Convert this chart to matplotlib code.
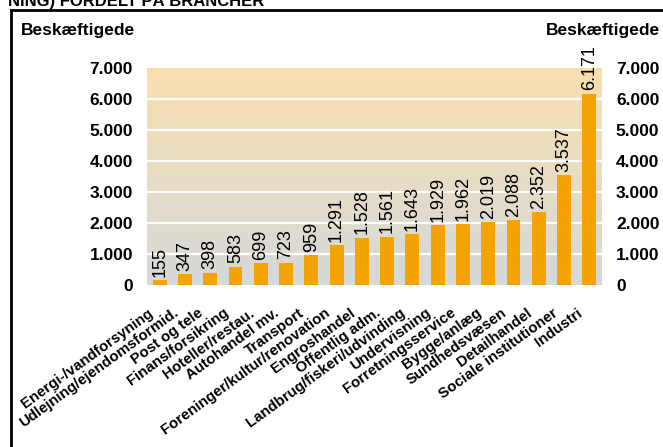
import matplotlib
matplotlib.use("Agg")
import matplotlib.pyplot as plt
import numpy as np
from matplotlib.lines import Line2D
from matplotlib.colors import LinearSegmentedColormap

plt.rcParams['font.family'] = ['Liberation Sans', 'DejaVu Sans']

categories = ["Energi-/vandforsyning", "Udlejning/ejendomsformid.", "Post og tele",
              "Finans/forsikring", "Hoteller/restau.", "Autohandel mv.", "Transport",
              "Foreninger/kultur/renovation", "Engroshandel", "Offentlig adm.",
              "Landbrug/fiskeri/udvinding", "Undervisning", "Forretningsservice",
              "Bygge/anlæg", "Sundhedsvæsen", "Detailhandel", "Sociale institutioner", "Industri"]
values = [155, 347, 398, 583, 699, 723, 959, 1291, 1528, 1561, 1643, 1929, 1962,
          2019, 2088, 2352, 3537, 6171]
yticks = [0, 1000, 2000, 3000, 4000, 5000, 6000, 7000]
ytick_labels = ["0", "1.000", "2.000", "3.000", "4.000", "5.000", "6.000", "7.000"]
value_labels = ["155", "347", "398", "583", "699", "723", "959", "1.291", "1.528", "1.561",
                "1.643", "1.929", "1.962", "2.019", "2.088", "2.352", "3.537", "6.171"]

W, H = 663, 447
fig = plt.figure(figsize=(W / 100, H / 100), dpi=100)
ax = fig.add_axes([147 / W, 1 - 285 / H, (602 - 147) / W, (285 - 68) / H])

n = len(categories)
x = np.arange(n)
ax.set_xlim(-0.5, n - 0.5)
ax.set_ylim(0, 7000)

# gradient background
cmap = LinearSegmentedColormap.from_list("bg", ["#d5d9d9", "#fadfb0"])
grad = np.linspace(0, 1, 256).reshape(-1, 1)
ax.imshow(grad, extent=[-0.5, n - 0.5, 0, 7000], origin="lower", aspect="auto",
          cmap=cmap, zorder=0)

for t in yticks[1:-1]:
    ax.axhline(t, color="white", lw=1.6, zorder=1)

ax.bar(x, values, width=0.55, color="#f5a300", zorder=2)

for xi, v, lab in zip(x, values, value_labels):
    ax.annotate(lab, (xi, v), xytext=(0, 2.5), textcoords="offset points",
                rotation=90, ha="center", va="bottom", fontsize=13, zorder=3)

for s in ax.spines.values():
    s.set_visible(False)

ax.set_yticks(yticks)
ax.set_yticklabels(ytick_labels, fontsize=12.5, fontweight="bold")
ax.tick_params(axis="y", length=0, pad=10, labelleft=True, labelright=True)

ax.set_xticks(x)
ax.set_xticklabels([])
ax.tick_params(axis="x", length=0)
for xi, cat in zip(x, categories):
    ax.annotate(cat, (xi, 0), xytext=(-6, -19), textcoords="offset points",
                rotation=36, ha="right", va="center", rotation_mode="anchor",
                fontsize=10.8, fontweight="bold", annotation_clip=False)

# side labels
fig.text(21 / W, 1 - 30 / H, "Beskæftigede", fontsize=12.5, fontweight="bold",
         ha="left", va="center")
fig.text(660 / W, 1 - 30 / H, "Beskæftigede", fontsize=12.5, fontweight="bold",
         ha="right", va="center")

# title of the page, cut off at the top edge as in the reference
fig.text(8 / W, 1 - 6 / H, "NING) FORDELT PÅ BRANCHER", fontsize=12,
         fontweight="bold", ha="left", va="baseline")

# frame
fig.add_artist(Line2D([11 / W, 11 / W], [1 - 10 / H, 0], transform=fig.transFigure,
                      color="black", lw=2))
fig.add_artist(Line2D([11 / W, 1], [1 - 10 / H, 1 - 10 / H], transform=fig.transFigure,
                      color="black", lw=2))

fig.savefig("out.png", dpi=100)
